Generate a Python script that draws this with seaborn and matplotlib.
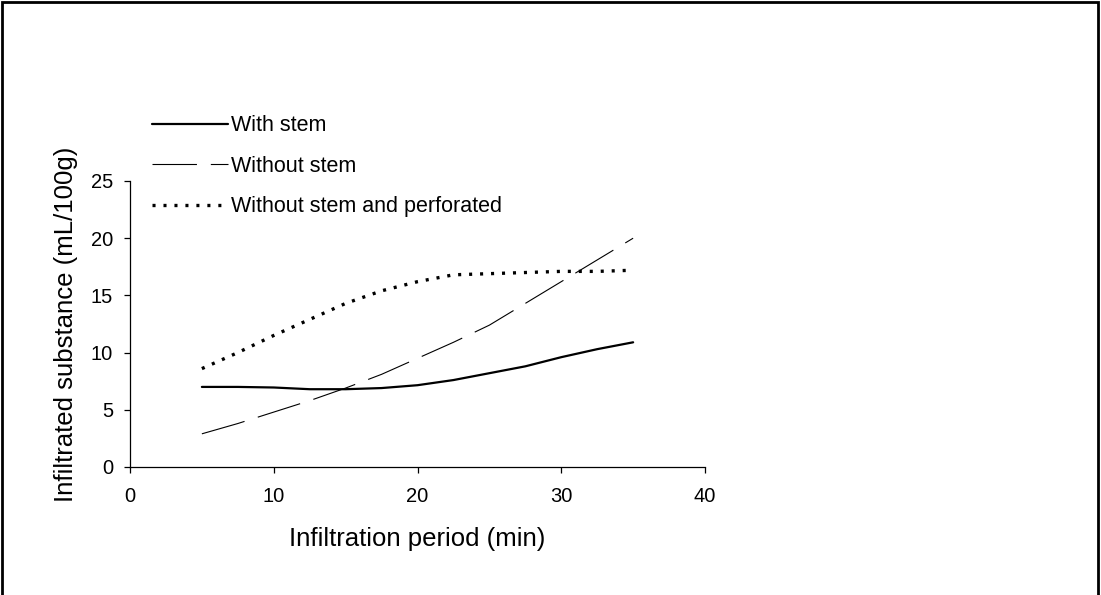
import matplotlib
matplotlib.use("Agg")
import matplotlib.pyplot as plt
import seaborn as sns
import pandas as pd
from matplotlib.patches import Rectangle

# Data
minutes = [5, 7.5, 10, 12.5, 15, 17.5, 20, 22.5, 25, 27.5, 30, 32.5, 35]
with_stem = [7.0, 7.0, 6.95, 6.8, 6.8, 6.9, 7.15, 7.6, 8.2, 8.8, 9.6, 10.3, 10.9]
without_stem = [2.9, 3.8, 4.8, 5.8, 6.9, 8.1, 9.5, 10.9, 12.4, 14.3, 16.2, 18.1, 20.0]
perforated = [8.6, 10.0, 11.5, 12.9, 14.3, 15.4, 16.2, 16.8, 16.9, 17.0, 17.1, 17.1, 17.2]
series_names = ["With stem", "Without stem", "Without stem and perforated"]
x_ticks = [0, 10, 20, 30, 40]
y_ticks = [0, 5, 10, 15, 20, 25]

sns.set_theme(style="ticks")
plt.rcParams['font.family'] = ['Liberation Sans', 'DejaVu Sans']
plt.rcParams['lines.scale_dashes'] = False

fig = plt.figure(figsize=(11.01, 5.95), dpi=100)
ax = fig.add_axes([130/1101, 1-467/595, 575/1101, 286/595])

df = pd.DataFrame({"min": minutes, "a": with_stem, "b": without_stem, "c": perforated})

sns.lineplot(data=df, x="min", y="a", ax=ax, color="black", linewidth=1.6,
             label=series_names[0])
sns.lineplot(data=df, x="min", y="b", ax=ax, color="black", linewidth=0.8,
             label=series_names[1])
sns.lineplot(data=df, x="min", y="c", ax=ax, color="black", linewidth=2.4,
             label=series_names[2])
lines = ax.get_lines()
lines[1].set_dashes([32, 10])
lines[2].set_dashes([2.2, 5.7])
lines[2].set_dash_capstyle('butt')

ax.set_xlim(0, 40)
ax.set_ylim(0, 25)
ax.set_xticks(x_ticks)
ax.set_yticks(y_ticks)
for s in ["top", "right"]:
    ax.spines[s].set_visible(False)
for s in ["left", "bottom"]:
    ax.spines[s].set_color("black")
    ax.spines[s].set_linewidth(0.9)
ax.tick_params(axis="both", direction="out", length=4.3, width=0.9, colors="black",
               labelsize=14.5)
ax.tick_params(axis="x", pad=10)
ax.tick_params(axis="y", pad=8)
ax.set_xlabel("Infiltration period (min)", fontsize=18.5, labelpad=15.5, color="black")
ax.set_ylabel("Infiltrated substance (mL/100g)", fontsize=18.5, labelpad=9, color="black")

handles, labels = ax.get_legend_handles_labels()
if ax.get_legend():
    ax.get_legend().remove()
leg = fig.legend(handles, labels, loc="upper left",
                 bbox_to_anchor=(143.4/1101, 1-106.8/595), frameon=False,
                 fontsize=15.5, handlelength=3.53, handletextpad=0.15,
                 labelspacing=0.9, borderaxespad=0)
for t in leg.get_texts():
    t.set_color("black")

# Figure frame (border)
fig.patches.append(Rectangle((2/1101, -0.05), 1096/1101, 1.05 - 2/595,
                             transform=fig.transFigure, fill=False,
                             edgecolor="black", linewidth=2, clip_on=False))

fig.savefig("out.png", dpi=100)
